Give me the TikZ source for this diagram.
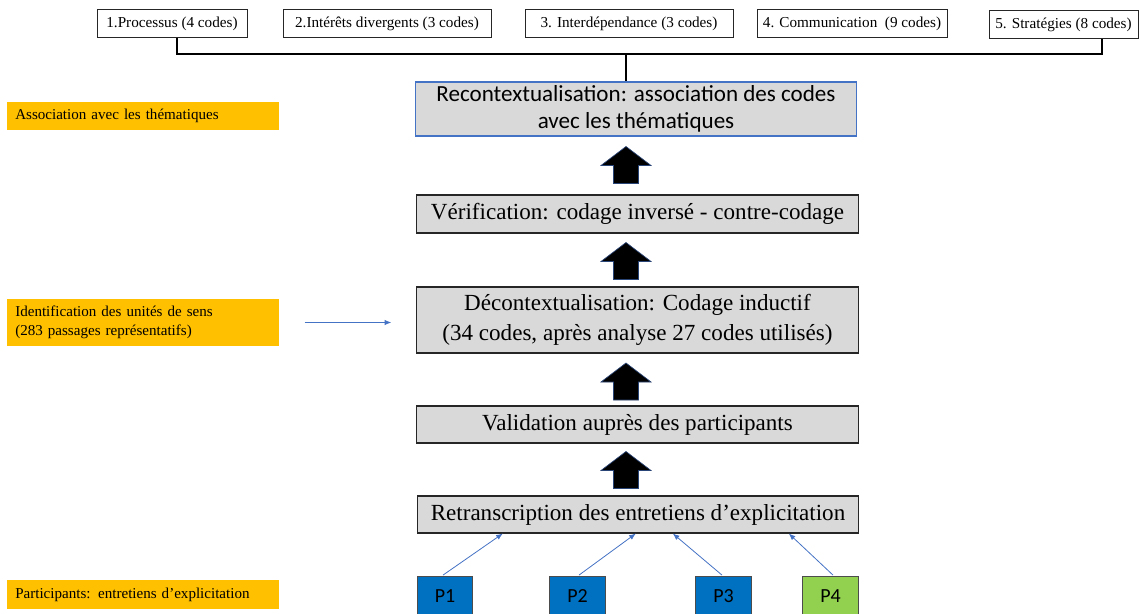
\documentclass[tikz,border=0pt]{standalone}
\usepackage{fontspec}
\setmainfont{Liberation Serif}
\newfontfamily\calibrilike{Carlito}
\usetikzlibrary{calc,arrows.meta}

\definecolor{boxgray}{HTML}{D9D9D9}
\definecolor{edgeblue}{HTML}{4472C4}
\definecolor{labelorange}{HTML}{FFC000}
\definecolor{pblue}{HTML}{0070C0}
\definecolor{pgreen}{HTML}{92D050}

\tikzset{
  stage/.style={draw=black!85, line width=0.8pt, fill=boxgray, inner sep=0pt,
    minimum width=331pt, align=center, font=\fontsize{17.3}{22.5}\selectfont},
  themebox/.style={draw=black!85, line width=0.6pt, fill=white, inner sep=0pt,
    minimum height=21pt, font=\fontsize{11.4}{13}\selectfont},
  sidelabel/.style={fill=labelorange, anchor=west, inner xsep=6pt, inner ysep=0pt,
    text width=192pt, align=left, font=\fontsize{11.3}{14.5}\selectfont},
  partbox/.style={draw=black!70, line width=0.6pt, inner sep=0pt,
    minimum width=41.5pt, minimum height=29.25pt, font=\calibrilike\fontsize{15}{18}\selectfont},
  % upward block arrow, 37 units tall, head 52 wide, shaft 26 wide
  uparrow/.pic={
    \path[fill=black, draw=edgeblue!60!black, line width=0.5pt]
      (-12.5,18.5) -- (-12.5,0.5) -- (-25,0.5) -- (0,-18.5) -- (25,0.5)
      -- (12.5,0.5) -- (12.5,18.5) -- cycle;
  },
  thinarrow/.style={draw=edgeblue, line width=0.6pt, -{Latex[length=5pt,width=4pt]}},
  bracket/.style={draw=black, line width=2.2pt},
}

\begin{document}
\begin{tikzpicture}[x=0.75pt, y=-0.75pt]
\useasboundingbox (0,0) rectangle (1140,614);

% themes along the top
\node[themebox, minimum width=112.5pt] (t1) at (172,23.5) {1.Processus (4 codes)};
\node[themebox, minimum width=156pt] (t2) at (387,23.5) {2.Intérêts divergents (3 codes)};
\node[themebox, minimum width=156pt] (t3) at (629,23.5) {3. Interdépendance (3 codes)};
\node[themebox, minimum width=142.5pt] (t4) at (852,23.5) {4. Communication\ \ (9 codes)};
\node[themebox, minimum width=111.75pt] (t5) at (1063.5,24.5) {5. Stratégies (8 codes)};

% analysis stages
\node[stage, draw=edgeblue, minimum height=40.5pt, font=\calibrilike\fontsize{17.3}{20.5}\selectfont]
  (rc) at (636,109) {Recontextualisation: association des codes\\avec les thématiques};
\node[stage, minimum height=28.5pt] (vf) at (637.5,214) {Vérification: codage inversé - contre-codage};
\node[stage, minimum height=49.5pt] (dc) at (637.5,320) {Décontextualisation: Codage inductif\\(34 codes, après analyse 27 codes utilisés)};
\node[stage, minimum height=27.75pt] (va) at (637.5,424.5) {Validation auprès des participants};
\node[stage, minimum height=27.75pt] (rt) at (638,514.5) {Retranscription des entretiens d’explicitation};

% upward block arrows between stages
\pic (a1) at (626,165) {uparrow};
\pic (a2) at (626,261) {uparrow};
\pic (a3) at (626,381.5) {uparrow};
\pic (a4) at (626,470) {uparrow};

% bracket gathering the themes
\coordinate (barL) at (177,54);
\coordinate (barM) at (626,54);
\coordinate (barR) at (1102,54);
\draw[bracket] (barL |- t1.south) -- (barL) -- (barR) -- (barR |- t5.south);
\draw[bracket] (barM) -- (barM |- rc.north);

% side labels
\node[sidelabel, minimum height=21pt] (s1) at (7,116) {Association avec les thématiques};
\node[sidelabel, minimum height=35.25pt] (s2) at (7,322.5) {Identification des unités de sens\\(283 passages représentatifs)};
\node[sidelabel, minimum height=21.75pt] (s3) at (7,594.5) {Participants: entretiens d’explicitation};
\draw[thinarrow] ($(s2.east)+(25,0)$) -- ($(s2.east -| dc.west)+(-25,0)$);

% participants
\node[partbox, fill=pblue] (p1) at (445,596) {P1};
\node[partbox, fill=pblue] (p2) at (577.5,596) {P2};
\node[partbox, fill=pblue] (p3) at (723.5,596) {P3};
\node[partbox, fill=pgreen] (p4) at (830.5,596) {P4};

\draw[thinarrow] ($(p1.north)+(-2,-1)$) -- ($(rt.south west)+(86,0)$);
\draw[thinarrow] ($(p2.north)+(1.5,-1)$) -- ($(rt.south west)+(219,0)$);
\draw[thinarrow] ($(p3.north)+(-1.5,-1)$) -- ($(rt.south west)+(256,0)$);
\draw[thinarrow] ($(p4.north)+(2.5,-1)$) -- ($(rt.south west)+(372,0)$);
\end{tikzpicture}
\end{document}
